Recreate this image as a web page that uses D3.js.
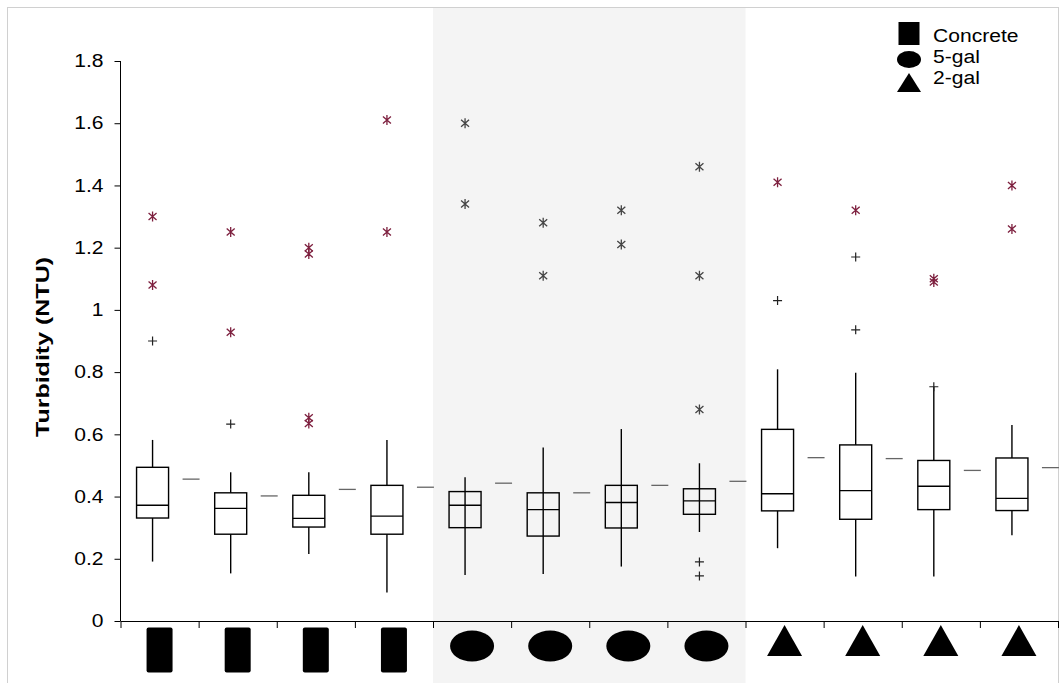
<!DOCTYPE html>
<html lang="en">
<head>
  <meta charset="UTF-8">
  <script src="https://cdn.jsdelivr.net/npm/d3@7"></script>
  <title>Turbidity box plots</title>
  <style>
    body { margin: 0; background: #ffffff; }
    svg { display: block; font-family: "Liberation Sans", Arial, sans-serif; }
    .box { fill: none; stroke: #000; stroke-width: 1.4; }
    .whisker { stroke: #000; stroke-width: 1.4; }
    .mean { stroke: #666; stroke-width: 1.3; }
    .axis path, .axis line { stroke: #000; }
    .axis text { font-size: 18px; fill: #000; }
  </style>
</head>
<body>
<div id="chart"></div>
<script>
  // data
  var categories = ["C1", "C2", "C3", "C4", "G5-1", "G5-2", "G5-3", "G5-4", "G2-1", "G2-2", "G2-3", "G2-4"];
  var tankType   = ["Concrete", "Concrete", "Concrete", "Concrete", "5-gal", "5-gal", "5-gal", "5-gal", "2-gal", "2-gal", "2-gal", "2-gal"];
  var whiskerLow = [0.191, 0.153, 0.215, 0.092, 0.148, 0.151, 0.175, 0.286, 0.234, 0.143, 0.143, 0.276];
  var q1         = [0.331, 0.279, 0.302, 0.279, 0.300, 0.273, 0.299, 0.343, 0.354, 0.327, 0.358, 0.355];
  var median     = [0.372, 0.362, 0.330, 0.337, 0.372, 0.358, 0.381, 0.386, 0.409, 0.419, 0.433, 0.394];
  var q3         = [0.494, 0.412, 0.404, 0.436, 0.416, 0.412, 0.436, 0.425, 0.616, 0.566, 0.516, 0.524];
  var whiskerHigh= [0.582, 0.478, 0.478, 0.582, 0.462, 0.558, 0.617, 0.507, 0.809, 0.798, 0.753, 0.630];
  var means      = [0.456, 0.402, 0.423, 0.430, 0.443, 0.412, 0.436, 0.449, 0.525, 0.522, 0.484, 0.493];
  var extremeOutliers = [
    [1.30, 1.08], [1.25, 0.928], [1.20, 1.18, 0.653, 0.635], [1.61, 1.25],
    [1.60, 1.34], [1.28, 1.11], [1.32, 1.21], [1.46, 1.11, 0.68],
    [1.41], [1.32], [1.10, 1.09], [1.40, 1.26]
  ];
  var mildOutliers = [
    [0.90], [0.633], [], [],
    [], [], [], [0.19, 0.145],
    [1.03], [1.17, 0.936], [0.753], []
  ];
  var yTicks = [0, 0.2, 0.4, 0.6, 0.8, 1, 1.2, 1.4, 1.6, 1.8];
  var yTickLabels = ["0", "0.2", "0.4", "0.6", "0.8", "1", "1.2", "1.4", "1.6", "1.8"];
  var legendItems = ["Concrete", "5-gal", "2-gal"];

  var width = 1063, height = 683;

  // the original text is a bit wider than the font, stretch it
  function widen(sel, k) {
    sel.each(function() {
      var w = this.getComputedTextLength();
      d3.select(this).attr("textLength", w * k).attr("lengthAdjust", "spacingAndGlyphs");
    });
  }

  var svg = d3.select("#chart").append("svg")
    .attr("width", width)
    .attr("height", height);

  var x = d3.scaleBand().domain(categories).range([120.5, 1058]).paddingInner(0).paddingOuter(0);
  var xEdge = d3.scaleLinear().domain([0, categories.length]).range([120.5, 1058]);
  var y = d3.scaleLinear().domain([0, 1.8]).range([621, 61]);

  var cx = function(i) { return x(categories[i]) + x.bandwidth() / 2; };
  var boxX = function(i) { return cx(i) - 7; };

  // shaded band behind the 5-gal group
  var g5 = categories.filter(function(c, i) { return tankType[i] === "5-gal"; });
  svg.append("rect")
    .attr("x", x(g5[0]))
    .attr("y", 8)
    .attr("width", x(g5[g5.length - 1]) + x.bandwidth() - x(g5[0]))
    .attr("height", height - 8)
    .attr("fill", "#f4f4f4");

  // outer frame
  svg.append("rect")
    .attr("x", 7.5).attr("y", 7.5)
    .attr("width", 1051).attr("height", 690)
    .attr("fill", "none")
    .attr("stroke", "#d0d0d0");

  // axes
  svg.append("g")
    .attr("class", "axis")
    .attr("transform", "translate(120.5,0)")
    .call(d3.axisLeft(y).tickValues(yTicks).tickFormat(function(d, i) { return yTickLabels[i]; })
      .tickSize(6).tickSizeOuter(0).tickPadding(11))
    .call(function(g) { g.select(".domain").attr("d", "M0," + y(1.8) + "V" + y(0)); })
    .selectAll("text").call(widen, 1.17);

  svg.append("g")
    .attr("class", "axis")
    .attr("transform", "translate(0," + y(0) + ")")
    .call(d3.axisBottom(xEdge).tickValues(d3.range(categories.length + 1)).tickFormat("")
      .tickSize(7).tickSizeOuter(0));

  svg.append("text")
    .attr("transform", "translate(49,347)rotate(-90)")
    .attr("text-anchor", "middle")
    .style("font-size", "19px")
    .style("font-weight", "bold")
    .attr("textLength", 180)
    .attr("lengthAdjust", "spacingAndGlyphs")
    .text("Turbidity (NTU)");

  // boxes
  var idx = d3.range(categories.length);
  var boxW = 32;

  svg.selectAll(".whisker")
    .data(idx).enter().append("line")
    .attr("class", "whisker")
    .attr("x1", boxX).attr("x2", boxX)
    .attr("y1", function(i) { return y(whiskerHigh[i]); })
    .attr("y2", function(i) { return y(whiskerLow[i]); });

  svg.selectAll(".box")
    .data(idx).enter().append("rect")
    .attr("class", "box")
    .attr("x", function(i) { return boxX(i) - boxW / 2; })
    .attr("width", boxW)
    .attr("y", function(i) { return y(q3[i]); })
    .attr("height", function(i) { return y(q1[i]) - y(q3[i]); })
    .style("fill", function(i) { return tankType[i] === "5-gal" ? "none" : "#fff"; });

  svg.selectAll(".median")
    .data(idx).enter().append("line")
    .attr("class", "whisker")
    .attr("x1", function(i) { return boxX(i) - boxW / 2; })
    .attr("x2", function(i) { return boxX(i) + boxW / 2; })
    .attr("y1", function(i) { return y(median[i]); })
    .attr("y2", function(i) { return y(median[i]); });

  svg.selectAll(".mean")
    .data(idx).enter().append("line")
    .attr("class", "mean")
    .attr("x1", function(i) { return cx(i) + 23; })
    .attr("x2", function(i) { return cx(i) + 40; })
    .attr("y1", function(i) { return y(means[i]); })
    .attr("y2", function(i) { return y(means[i]); });

  // outliers
  var stars = [], pluses = [];
  idx.forEach(function(i) {
    extremeOutliers[i].forEach(function(v) { stars.push({i: i, v: v}); });
    mildOutliers[i].forEach(function(v) { pluses.push({i: i, v: v}); });
  });

  svg.selectAll(".star")
    .data(stars).enter().append("path")
    .attr("class", "star")
    .attr("transform", function(d) { return "translate(" + boxX(d.i) + "," + y(d.v) + ")"; })
    .attr("d", "M0,-5V5M-4,-3.5L4,3.5M-4,3.5L4,-3.5")
    .attr("stroke", function(d) { return tankType[d.i] === "5-gal" ? "#444" : "#7d1f3e"; })
    .attr("stroke-width", 1.3)
    .attr("fill", "none");

  svg.selectAll(".plus")
    .data(pluses).enter().append("path")
    .attr("class", "plus")
    .attr("transform", function(d) { return "translate(" + boxX(d.i) + "," + y(d.v) + ")"; })
    .attr("d", "M-4.5,0H4.5M0,-4.5V4.5")
    .attr("stroke", "#222")
    .attr("stroke-width", 1.2)
    .attr("fill", "none");

  // icons under the axis
  function drawSymbol(sel, type, sx, sy, big) {
    if (type === "Concrete") {
      var w = big ? 26 : 21, h = big ? 45 : 23;
      sel.append("rect").attr("x", sx - w / 2).attr("y", sy - h / 2)
        .attr("width", w).attr("height", h).attr("rx", big ? 2 : 0).attr("fill", "#000");
    } else if (type === "5-gal") {
      sel.append("ellipse").attr("cx", sx).attr("cy", sy)
        .attr("rx", big ? 22 : 12).attr("ry", big ? 15.5 : 8.5).attr("fill", "#000");
    } else {
      var tw = big ? 35 : 24, th = big ? 31 : 19;
      sel.append("path")
        .attr("d", "M" + sx + "," + (sy - th / 2) + "L" + (sx + tw / 2) + "," + (sy + th / 2) +
          "L" + (sx - tw / 2) + "," + (sy + th / 2) + "Z")
        .attr("fill", "#000");
    }
  }

  var iconY = { "Concrete": 650, "5-gal": 646, "2-gal": 640.5 };
  idx.forEach(function(i) {
    drawSymbol(svg, tankType[i], cx(i), iconY[tankType[i]], true);
  });

  // legend
  var legendSymY = [33.5, 59.5, 82.5];
  var legendTextY = [42, 63, 84];
  legendItems.forEach(function(name, k) {
    drawSymbol(svg, name, 909, legendSymY[k], false);
    svg.append("text")
      .attr("x", 933).attr("y", legendTextY[k])
      .style("font-size", "18px")
      .text(name)
      .call(widen, 1.17);
  });
</script>
</body>
</html>
